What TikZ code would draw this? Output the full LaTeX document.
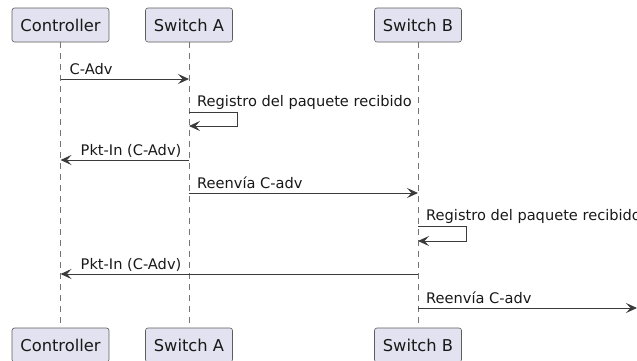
\documentclass[tikz,border=0pt]{standalone}
\usepackage{fontspec}
\setmainfont{DejaVu Sans}
\usetikzlibrary{arrows.meta}
\definecolor{partfill}{HTML}{E2E2F0}
\definecolor{ink}{HTML}{181818}

\begin{document}
\begin{tikzpicture}[
    x=1pt, y=-1pt,
    every node/.style={font=\fontsize{14.6}{17}\selectfont, text=ink},
    party/.style={draw=ink!70, line width=0.6pt, fill=partfill, rounded corners=2.5pt, inner xsep=8.4pt, minimum height=34pt, font=\fontsize{16.3}{19}\selectfont},
    life/.style={draw=ink!60, line width=0.6pt, dash pattern=on 5.5pt off 5.5pt},
    msg/.style={draw=ink!85, line width=0.9pt, -{Stealth[length=11pt, width=10pt, inset=4.5pt]}},
    lbl/.style={anchor=base west, inner sep=0pt}
]
\useasboundingbox (0,0) rectangle (637,360);
\node[party] (ctrl) at (60.5,25) {Controller};
\node[party] (swa) at (189,25) {Switch A};
\node[party] (swb) at (418,25) {Switch B};
\node[party] (ctrl2) at (60.5,345) {Controller};
\node[party] (swa2) at (189,345) {Switch A};
\node[party] (swb2) at (418,345) {Switch B};
\draw[life] (ctrl) -- (ctrl2);
\draw[life] (swa) -- (swa2);
\draw[life] (swb) -- (swb2);

% message rows
\coordinate (m1) at (0,79);
\coordinate (m2) at (0,112);
\coordinate (m3) at (0,160);
\coordinate (m4) at (0,193);
\coordinate (m5) at (0,226);
\coordinate (m6) at (0,274);
\coordinate (m7) at (637,308);

\draw[msg] (ctrl |- m1) -- (swa |- m1);
\node[lbl] at ([xshift=9pt, yshift=5pt]ctrl |- m1) {C-Adv};

\draw[msg] (swa |- m2) -- ++(48,0) -- ++(0,14) -- ++(-48,0);
\node[lbl] at ([xshift=8pt, yshift=6pt]swa |- m2) {Registro del paquete recibido};

\draw[msg] (swa |- m3) -- (ctrl |- m3);
\node[lbl] at ([xshift=20pt, yshift=5pt]ctrl |- m3) {Pkt-In (C-Adv)};

\draw[msg] (swa |- m4) -- (swb |- m4);
\node[lbl] at ([xshift=8pt, yshift=5pt]swa |- m4) {Reenvía C-adv};

\draw[msg] (swb |- m5) -- ++(48,0) -- ++(0,15) -- ++(-48,0);
\node[lbl] at ([xshift=8pt, yshift=6pt]swb |- m5) {Registro del paquete recibido};

\draw[msg] (swb |- m6) -- (ctrl |- m6);
\node[lbl] at ([xshift=20pt, yshift=5pt]ctrl |- m6) {Pkt-In (C-Adv)};

\draw[msg] (swb |- m7) -- (m7);
\node[lbl] at ([xshift=8pt, yshift=5pt]swb |- m7) {Reenvía C-adv};
\end{tikzpicture}
\end{document}
